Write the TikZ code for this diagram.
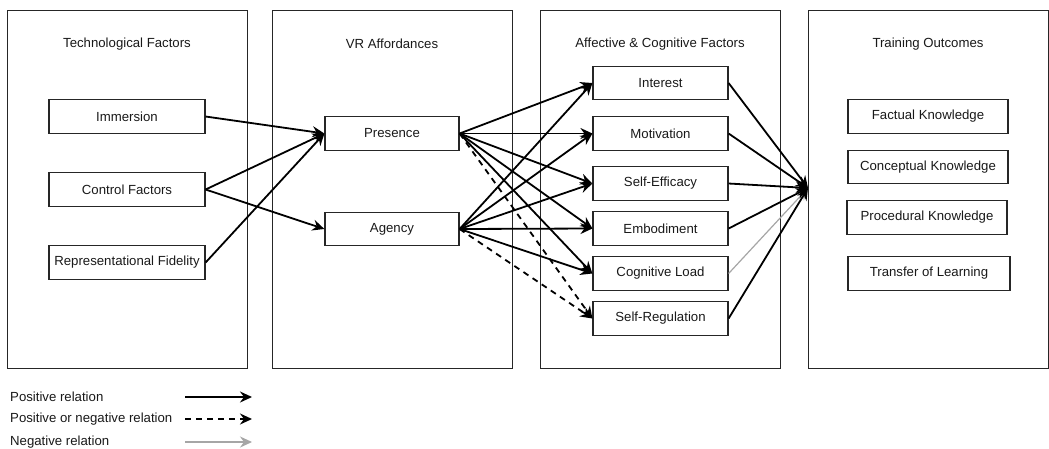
\documentclass[tikz,border=0pt]{standalone}
\usepackage{fontspec}
\setmainfont{Liberation Sans}
\usetikzlibrary{arrows.meta}
\begin{document}
\begin{tikzpicture}[x=1pt,y=-1pt,
  font=\fontsize{13.2}{15}\selectfont,
  panel/.style={draw=black!85, line width=0.9pt, rectangle, minimum width=240pt,
    minimum height=358pt, inner sep=0pt, anchor=north west},
  ptitle/.style={text=black!90, inner sep=0pt},
  factor/.style={draw=black!85, line width=1.2pt, rectangle, minimum height=33.5pt,
    inner sep=0pt, text=black!90},
  relarrow/.style={line width=1.8pt, -{Stealth[length=12pt,width=11pt,inset=4pt]}},
  posrel/.style={relarrow, draw=black},
  eitherrel/.style={relarrow, draw=black, dash pattern=on 6pt off 5pt},
  negrel/.style={relarrow, draw=black!35, line width=1.2pt},
  legtext/.style={anchor=west, inner sep=0pt, text=black!90}
]
\useasboundingbox (0,0) rectangle (1049,448);

% column panels
\node[panel] (b1) at (7,10) {};
\node[panel] (b2) at (272,10) {};
\node[panel] (b3) at (540,10) {};
\node[panel] (b4) at (808,10) {};

\node[ptitle] (t1) at (127,44) {Technological Factors};
\node[ptitle] (t2) at (392,44) {VR Affordances};
\node[ptitle] (t3) at (660,44) {Affective \& Cognitive Factors};
\node[ptitle] (t4) at (928,44) {Training Outcomes};

% technological factors
\node[factor, minimum width=156pt] (imm)  at (127,116.5) {Immersion};
\node[factor, minimum width=156pt] (ctrl) at (127,189.5) {Control Factors};
\node[factor, minimum width=156pt] (rep)  at (127,262.5) {Representational Fidelity};

% affordances
\node[factor, minimum width=134pt] (pres) at (392,133.5) {Presence};
\node[factor, minimum width=134pt] (agen) at (392,229) {Agency};

% affective and cognitive factors
\node[factor, minimum width=135pt] (inter) at (660.5,83)    {Interest};
\node[factor, minimum width=135pt] (motiv) at (660.5,133.5) {Motivation};
\node[factor, minimum width=135pt] (effic) at (660.5,183.5) {Self-Efficacy};
\node[factor, minimum width=135pt] (embod) at (660.5,228.5) {Embodiment};
\node[factor, minimum width=135pt] (cogl)  at (660.5,273.5) {Cognitive Load};
\node[factor, minimum width=135pt] (sreg)  at (660.5,318.5) {Self-Regulation};

% training outcomes
\node[factor, minimum width=160pt] (fact)  at (928,116.5) {Factual Knowledge};
\node[factor, minimum width=160pt] (conc)  at (928,167)   {Conceptual Knowledge};
\node[factor, minimum width=160pt] (proc)  at (927,217.5) {Procedural Knowledge};
\node[factor, minimum width=162pt] (trans) at (929,273.5) {Transfer of Learning};

\coordinate (conv) at (808,188);

% technology -> affordances
\draw[posrel] (imm.east)  -- (pres.west);
\draw[posrel] (ctrl.east) -- (pres.west);
\draw[posrel] (ctrl.east) -- (agen.west);
\draw[posrel] (rep.east)  -- (pres.west);

% affordances -> affective and cognitive factors
\foreach \src in {pres,agen}{
  \draw[posrel] (\src.east) -- (inter.west);
  \draw[posrel] (\src.east) -- (motiv.west);
  \draw[posrel] (\src.east) -- (effic.west);
  \draw[posrel] (\src.east) -- (embod.west);
  \draw[posrel] (\src.east) -- (cogl.west);
  \draw[eitherrel] (\src.east) -- (sreg.west);
}

% affective and cognitive factors -> outcomes
\draw[negrel] (cogl.east) -- (conv);
\draw[posrel] (inter.east) -- (conv);
\draw[posrel] (motiv.east) -- (conv);
\draw[posrel] (effic.east) -- (conv);
\draw[posrel] (embod.east) -- (conv);
\draw[posrel] (sreg.east)  -- (conv);

% legend
\node[legtext] (l1) at (10,397) {Positive relation};
\node[legtext] (l2) at (10,419) {Positive or negative relation};
\node[legtext] (l3) at (10,442) {Negative relation};
\coordinate (a1s) at (185,397); \coordinate (a1e) at (252,397);
\coordinate (a2s) at (185,419); \coordinate (a2e) at (252,419);
\coordinate (a3s) at (185,442); \coordinate (a3e) at (252,442);
\draw[posrel]    (a1s) -- (a1e);
\draw[eitherrel] (a2s) -- (a2e);
\draw[negrel]    (a3s) -- (a3e);
\end{tikzpicture}
\end{document}
